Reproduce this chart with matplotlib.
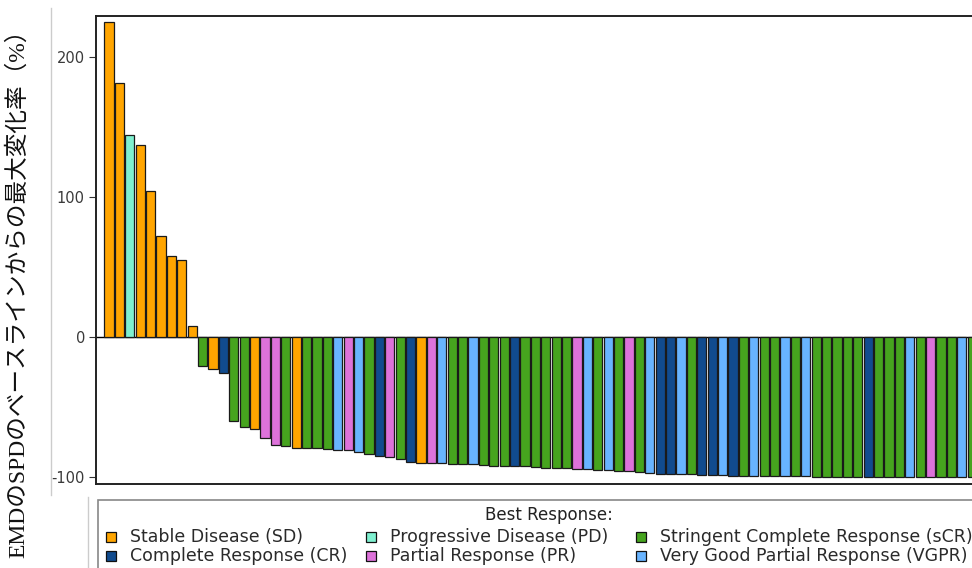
import numpy as np
import matplotlib
matplotlib.use("Agg")
import matplotlib.pyplot as plt
from matplotlib.patches import Rectangle
from matplotlib.lines import Line2D

plt.rcParams["axes.unicode_minus"] = False

# best response per patient, sorted by max change
responses = ["SD", "SD", "PD", "SD", "SD", "SD", "SD", "SD", "SD", "sCR",
             "SD", "CR", "sCR", "sCR", "SD", "PR", "PR", "sCR", "SD", "sCR",
             "sCR", "sCR", "VGPR", "PR", "VGPR", "sCR", "CR", "PR", "sCR", "CR",
             "SD", "PR", "VGPR", "sCR", "sCR", "VGPR", "sCR", "sCR", "sCR", "CR",
             "sCR", "sCR", "sCR", "sCR", "sCR", "PR", "VGPR", "sCR", "VGPR", "sCR",
             "PR", "sCR", "VGPR", "CR", "CR", "VGPR", "sCR", "CR", "CR", "VGPR",
             "CR", "sCR", "VGPR", "sCR", "sCR", "VGPR", "sCR", "VGPR", "sCR", "sCR",
             "sCR", "sCR", "sCR", "CR", "sCR", "sCR", "sCR", "VGPR", "sCR", "PR",
             "sCR", "sCR", "VGPR", "sCR"]

change = [225, 181, 144, 137, 104, 72, 58, 55, 8, -21,
          -23, -26, -60, -64, -66, -72, -77, -78, -79, -79,
          -79.5, -80, -80.5, -81, -82, -83.5, -85, -86, -87.5, -89,
          -90, -90, -90.3, -90.5, -90.6, -91, -91.7, -92, -92.3, -92.4,
          -92.5, -93, -93.3, -93.4, -93.6, -94.5, -94.6, -94.7, -95, -95.7,
          -95.8, -96.5, -97, -97.8, -97.9, -98, -98, -98.4, -98.8, -98.8,
          -99, -99, -99, -99.2, -99.2, -99.6, -99.6, -99.6, -99.7, -99.7,
          -99.7, -99.8, -99.8, -99.8, -99.8, -99.9, -99.9, -99.9, -99.9, -100,
          -100, -100, -100, -100]

# legend order (two rows x three columns)
legend_codes = ["SD", "PD", "sCR", "CR", "PR", "VGPR"]
legend_labels = ["Stable Disease (SD)", "Progressive Disease (PD)",
                 "Stringent Complete Response (sCR)", "Complete Response (CR)",
                 "Partial Response (PR)", "Very Good Partial Response (VGPR)"]
yticks = [-100, 0, 100, 200]

colors = {"SD": "#FFA500", "PD": "#7FF0D0", "sCR": "#46A41E",
          "CR": "#114B8E", "PR": "#DD72DA", "VGPR": "#68B4FF"}

W, H = 972, 568
fig = plt.figure(figsize=(W / 100, H / 100), dpi=100)

# axes goes past the right edge, like the cropped original
ax = fig.add_axes([96 / W, (H - 484) / H, (1000 - 96) / W, (484 - 16) / H])

x = np.arange(len(change))
bar_colors = [colors[r] for r in responses]
ax.bar(x, change, width=0.9, color=bar_colors, edgecolor="#1a1a1a", linewidth=0.9, zorder=3)
ax.axhline(0, color="black", linewidth=1.0, zorder=2)

pitch = 10.4
ax.set_xlim(-(109 - 96) / pitch, (1000 - 109) / pitch)
ax.set_ylim(-105, 229.2)
ax.set_xticks([])
ax.set_yticks(yticks)
ax.tick_params(axis="y", direction="out", length=5, width=0.8, pad=3,
               labelsize=10.5, labelcolor="#3a3a3a", color="#333333")
for s in ax.spines.values():
    s.set_linewidth(1.4)
    s.set_color("#222222")

fig.text(18 / W, 1 - 288 / H, "EMDのSPDのベースラインからの最大変化率（%）",
         rotation=90, ha="center", va="center", fontsize=17,
         family=["Liberation Serif", "Noto Sans CJK JP"], color="#111111")

# light gray borders left over from the pasted graph
fig.add_artist(Line2D([51 / W, 51 / W], [1 - 8 / H, 1 - 495 / H], color="#cccccc", lw=1))
fig.add_artist(Line2D([88 / W, 88 / W], [1 - 497 / H, 0], color="#cccccc", lw=1))

# legend box, also cut at the right and bottom
fig.add_artist(Rectangle((98 / W, -0.1), (1001 - 98) / W, 0.1 + (H - 500) / H,
                         transform=fig.transFigure, facecolor="white",
                         edgecolor="#888888", linewidth=1.2))
fig.text(549 / W, 1 - 515 / H, "Best Response:", ha="center", va="center",
         fontsize=12, color="#222222")

col_x = [106, 366, 636]
row_y = [537, 556]
for i, code in enumerate(legend_codes):
    cx = col_x[i % 3]
    cy = row_y[i // 3]
    fig.add_artist(Rectangle((cx / W, 1 - (cy + 5) / H), 10 / W, 10 / H,
                             transform=fig.transFigure, facecolor=colors[code],
                             edgecolor="#111111", linewidth=0.9))
    fig.text((cx + 24) / W, 1 - cy / H, legend_labels[i], ha="left", va="center",
             fontsize=12.5, color="#2a2a2a")

fig.savefig("out.png", dpi=100)
